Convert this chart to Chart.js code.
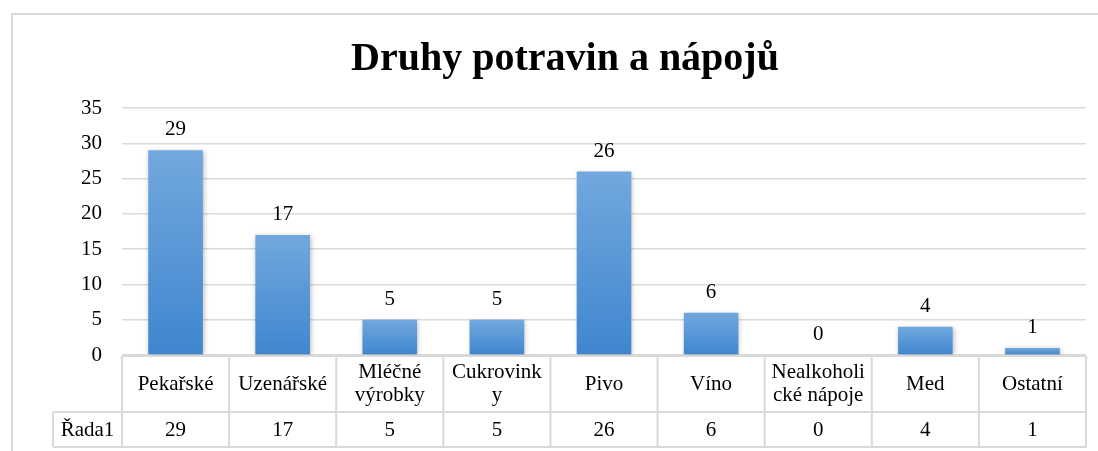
<!DOCTYPE html>
<html>
<head>
<meta charset="utf-8">
<script src="https://cdn.jsdelivr.net/npm/chart.js@4/dist/chart.umd.min.js"></script>
<style>
  body { margin: 0; background: #fff; }
</style>
</head>
<body>
<canvas id="bar-canvas" width="1098" height="451"></canvas>
<script>
const chartTitle = 'Druhy potravin a nápojů';
const categories = ['Pekařské', 'Uzenářské', 'Mléčné\nvýrobky', 'Cukrovink\ny', 'Pivo', 'Víno', 'Nealkoholi\ncké nápoje', 'Med', 'Ostatní'];
const seriesName = 'Řada1';
const values = [29, 17, 5, 5, 26, 6, 0, 4, 1];
const yTicks = [0, 5, 10, 15, 20, 25, 30, 35];

const FONT = '"Liberation Serif", "Times New Roman", serif';
const LINE = '#d9d9d9';

// gradient per bar, light on top, darker at the base
function barFill(context) {
  const chart = context.chart;
  if (!chart.chartArea) return '#5b9bd5';
  const y = chart.scales.y;
  const top = y.getPixelForValue(values[context.dataIndex]);
  const bottom = y.getPixelForValue(0);
  const g = chart.ctx.createLinearGradient(0, top, 0, Math.max(bottom, top + 1));
  g.addColorStop(0, '#72a8de');
  g.addColorStop(1, '#3f86cf');
  return g;
}

const extras = {
  id: 'extras',
  beforeDatasetsDraw(chart) {
    const ctx = chart.ctx;
    ctx.save();
    ctx.shadowColor = 'rgba(0,0,0,0.28)';
    ctx.shadowBlur = 5;
    ctx.shadowOffsetX = 1;
    ctx.shadowOffsetY = 1;
  },
  afterDatasetsDraw(chart) {
    chart.ctx.restore();
  },
  afterDraw(chart) {
    const ctx = chart.ctx;
    const area = chart.chartArea;
    const x = chart.scales.x;
    const y = chart.scales.y;

    // outer frame
    ctx.save();
    ctx.strokeStyle = LINE;
    ctx.lineWidth = 2;
    ctx.strokeRect(12, 14, 1100, 460);

    // title
    ctx.fillStyle = '#000';
    ctx.font = 'bold 40px ' + FONT;
    ctx.textAlign = 'center';
    ctx.textBaseline = 'alphabetic';
    ctx.fillText(chartTitle, 565, 70);

    // value labels above bars
    ctx.font = '21px ' + FONT;
    values.forEach((v, i) => {
      ctx.fillText(String(v), x.getPixelForValue(i), y.getPixelForValue(v) - 15);
    });

    // data table
    const n = categories.length;
    const half = (area.right - area.left) / (2 * n);
    const top = area.bottom + 1;
    const headH = 56;
    const rowH = 35;
    const tabLeft = 53;

    ctx.strokeStyle = LINE;
    ctx.lineWidth = 2;
    ctx.beginPath();
    // horizontal lines
    ctx.moveTo(area.left, top); ctx.lineTo(area.right, top);
    ctx.moveTo(tabLeft, top + headH); ctx.lineTo(area.right, top + headH);
    ctx.moveTo(tabLeft, top + headH + rowH); ctx.lineTo(area.right, top + headH + rowH);
    // vertical lines
    ctx.moveTo(tabLeft, top + headH); ctx.lineTo(tabLeft, top + headH + rowH);
    for (let i = 0; i <= n; i++) {
      const xx = i < n ? x.getPixelForValue(i) - half : x.getPixelForValue(n - 1) + half;
      ctx.moveTo(xx, top); ctx.lineTo(xx, top + headH + rowH);
    }
    ctx.stroke();

    ctx.fillStyle = '#000';
    ctx.font = '21px ' + FONT;
    ctx.textBaseline = 'middle';
    categories.forEach((c, i) => {
      const lines = c.split('\n');
      const cx = x.getPixelForValue(i);
      const mid = top + headH / 2;
      lines.forEach((ln, k) => {
        ctx.fillText(ln, cx, mid + (k - (lines.length - 1) / 2) * 23);
      });
      ctx.fillText(String(values[i]), cx, top + headH + rowH / 2 + 1);
    });
    ctx.fillText(seriesName, (tabLeft + area.left) / 2, top + headH + rowH / 2 + 1);
    ctx.restore();
  }
};

new Chart('bar-canvas', {
  type: 'bar',
  data: {
    labels: categories.map(c => c.replace('\n', '')),
    datasets: [{
      label: seriesName,
      data: values,
      backgroundColor: barFill,
      borderWidth: 0,
      barPercentage: 0.51,
      categoryPercentage: 1
    }]
  },
  options: {
    responsive: false,
    animation: false,
    layout: { padding: { top: 108, bottom: 96, left: 0, right: 12 } },
    plugins: {
      legend: { display: false },
      title: { display: false },
      tooltip: { enabled: false }
    },
    scales: {
      x: { display: false },
      y: {
        min: yTicks[0],
        max: yTicks[yTicks.length - 1],
        ticks: {
          stepSize: yTicks[1] - yTicks[0],
          color: '#000',
          padding: 20,
          font: { family: FONT, size: 21 }
        },
        grid: { color: LINE, lineWidth: 1.5, drawTicks: false },
        border: { display: false },
        afterFit(scale) { scale.width = 122; }
      }
    }
  },
  plugins: [extras]
});
</script>
</body>
</html>
